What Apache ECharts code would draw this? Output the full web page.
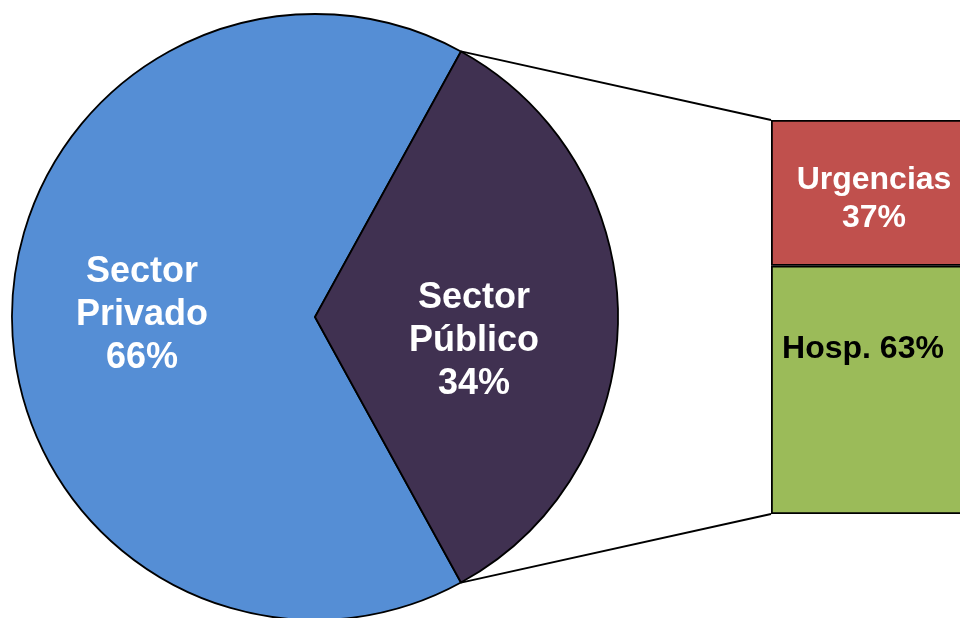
<!DOCTYPE html>
<html>
<head>
<meta charset="utf-8">
<script src="https://cdn.jsdelivr.net/npm/echarts@6/dist/echarts.min.js"></script>
<style>
html,body{margin:0;padding:0;background:#fff;}
#main{width:960px;height:618px;}
</style>
</head>
<body>
<div id="main"></div>
<script>
// ---- data ----
const pieCategories = ['Sector Privado', 'Sector Público'];
const pieValues = [66, 34];
const barCategories = ['Hosp.', 'Urgencias'];
const barValues = [63, 37];

// ---- layout ----
const PIE_CX = 315, PIE_CY = 317, PIE_R = 303;
const BAR_LEFT = 771, BAR_TOP = 120, BAR_HEIGHT = 394, BAR_WIDTH = 206;
const FONT = '"Liberation Sans", Arial, sans-serif';
const LINE_W = 1.8;

const total = pieValues.reduce((a, b) => a + b, 0);
const pubAngle = 360 * pieValues[1] / total;
const privAngle = 360 * pieValues[0] / total;
const startAngle = pubAngle / 2 + privAngle;

// connector lines: from the public slice's edge points to the bar's corners
const rad = pubAngle / 2 * Math.PI / 180;
const ex = PIE_CX + PIE_R * Math.cos(rad);
const eyTop = PIE_CY - PIE_R * Math.sin(rad);
const eyBot = PIE_CY + PIE_R * Math.sin(rad);
const yTop = BAR_TOP;
const yBot = BAR_TOP + BAR_HEIGHT;

const chart = echarts.init(document.getElementById('main'), null, {renderer: 'canvas'});

const pieLabelShift = [[-18.5, -1.5], [4.5, 24]];

chart.setOption({
  animation: false,
  backgroundColor: '#ffffff',
  grid: {left: BAR_LEFT, top: BAR_TOP, width: BAR_WIDTH, height: BAR_HEIGHT, outerBoundsMode: 'none', containLabel: false},
  xAxis: {type: 'category', data: ['x'], show: false},
  yAxis: {type: 'value', min: 0, max: 100, show: false},
  graphic: [
    {type: 'line', shape: {x1: ex, y1: eyTop, x2: BAR_LEFT, y2: yTop}, style: {stroke: '#000', lineWidth: LINE_W}, z: 10},
    {type: 'line', shape: {x1: ex, y1: eyBot, x2: BAR_LEFT, y2: yBot}, style: {stroke: '#000', lineWidth: LINE_W}, z: 10}
  ],
  series: [
    {
      type: 'pie',
      center: [PIE_CX, PIE_CY],
      radius: PIE_R,
      startAngle: startAngle,
      clockwise: true,
      silent: true,
      data: pieCategories.map((n, i) => ({
        name: n, value: pieValues[i],
        itemStyle: {color: i === 0 ? '#558ED5' : '#403151'}
      })),
      itemStyle: {borderColor: '#000', borderWidth: LINE_W},
      label: {
        show: true,
        position: 'inside',
        formatter: p => p.name.replace(' ', '\n') + '\n' + p.value + '%',
        color: '#fff',
        fontFamily: FONT,
        fontWeight: 'bold',
        fontSize: 36,
        lineHeight: 43,
        align: 'center'
      },
      labelLine: {show: false},
      labelLayout: p => ({dx: pieLabelShift[p.dataIndex][0], dy: pieLabelShift[p.dataIndex][1]})
    },
    {
      type: 'bar',
      stack: 's',
      name: barCategories[0],
      data: [barValues[0]],
      barWidth: '100%',
      silent: true,
      itemStyle: {color: '#9BBB59', borderColor: '#000', borderWidth: LINE_W},
      label: {
        show: true,
        position: 'inside',
        formatter: p => barCategories[0] + ' ' + p.value + '%',
        color: '#000',
        fontFamily: FONT,
        fontWeight: 'bold',
        fontSize: 32,
        offset: [-11, -41]
      }
    },
    {
      type: 'bar',
      stack: 's',
      name: barCategories[1],
      data: [barValues[1]],
      barWidth: '100%',
      silent: true,
      itemStyle: {color: '#C0504D', borderColor: '#000', borderWidth: LINE_W},
      label: {
        show: true,
        position: 'inside',
        formatter: p => barCategories[1] + '\n' + p.value + '%',
        color: '#fff',
        fontFamily: FONT,
        fontWeight: 'bold',
        fontSize: 32,
        lineHeight: 38,
        offset: [0, 6]
      }
    }
  ]
});
</script>
</body>
</html>
